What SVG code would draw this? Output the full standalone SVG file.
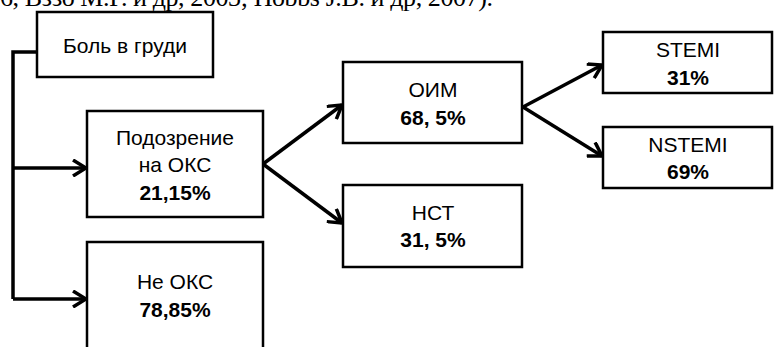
<svg xmlns="http://www.w3.org/2000/svg" width="774" height="347" viewBox="0 0 774 347">
<defs>
<style>
.box{fill:#fff;stroke:#000;stroke-width:2.5}
.t{font-family:"Liberation Sans",Arial,sans-serif;font-size:21px;text-anchor:middle;fill:#000}
.b{font-weight:bold}
.c{fill:none;stroke:#000;stroke-width:3.5;stroke-linejoin:miter}
.top{font-family:"Liberation Serif","Times New Roman",serif;font-size:26px;fill:#000}
</style>
<marker id="ah" viewBox="0 0 18 18" refX="16" refY="9" markerWidth="18" markerHeight="18" markerUnits="userSpaceOnUse" orient="auto">
<path d="M3,1 L16,9 L3,17" fill="none" stroke="#000" stroke-width="3.5"/>
</marker>
</defs>
<rect width="774" height="347" fill="#fff"/>
<text class="top" x="0" y="6" textLength="493" lengthAdjust="spacing">6, Вззо М.Г. и др, 2003; Hobbs J.B. и др, 2007).</text>
<g id="connectors">
<path class="c" d="M37,52 H13 V299"/>
<path class="c" d="M13,168 H86" marker-end="url(#ah)"/>
<path class="c" d="M13,299 H86" marker-end="url(#ah)"/>
<path class="c" d="M263,164 L342,105" marker-end="url(#ah)"/>
<path class="c" d="M263,164 L342,223" marker-end="url(#ah)"/>
<path class="c" d="M523,107 L602,65" marker-end="url(#ah)"/>
<path class="c" d="M523,107 L602,156" marker-end="url(#ah)"/>
</g>
<g id="n1"><rect class="box" x="37" y="12" width="176" height="65"/><text class="t" x="125" y="53">Боль в груди</text></g>
<g id="n2"><rect class="box" x="87" y="111" width="176" height="106"/><text class="t" x="175" y="145">Подозрение</text><text class="t" x="175" y="172">на ОКС</text><text class="t b" x="175" y="200">21,15%</text></g>
<g id="n3"><rect class="box" x="87" y="242" width="176" height="120"/><text class="t" x="175" y="289">Не ОКС</text><text class="t b" x="175" y="317">78,85%</text></g>
<g id="n4"><rect class="box" x="343" y="62" width="179" height="81"/><text class="t" x="433" y="97">ОИМ</text><text class="t b" x="433" y="125">68, 5%</text></g>
<g id="n5"><rect class="box" x="343" y="185" width="179" height="82"/><text class="t" x="433" y="220">НСТ</text><text class="t b" x="433" y="247">31, 5%</text></g>
<g id="n6"><rect class="box" x="603" y="32" width="169" height="61"/><text class="t" x="688" y="57">STEMI</text><text class="t b" x="688" y="85">31%</text></g>
<g id="n7"><rect class="box" x="603" y="127" width="169" height="61"/><text class="t" x="688" y="152">NSTEMI</text><text class="t b" x="688" y="179">69%</text></g>
</svg>
